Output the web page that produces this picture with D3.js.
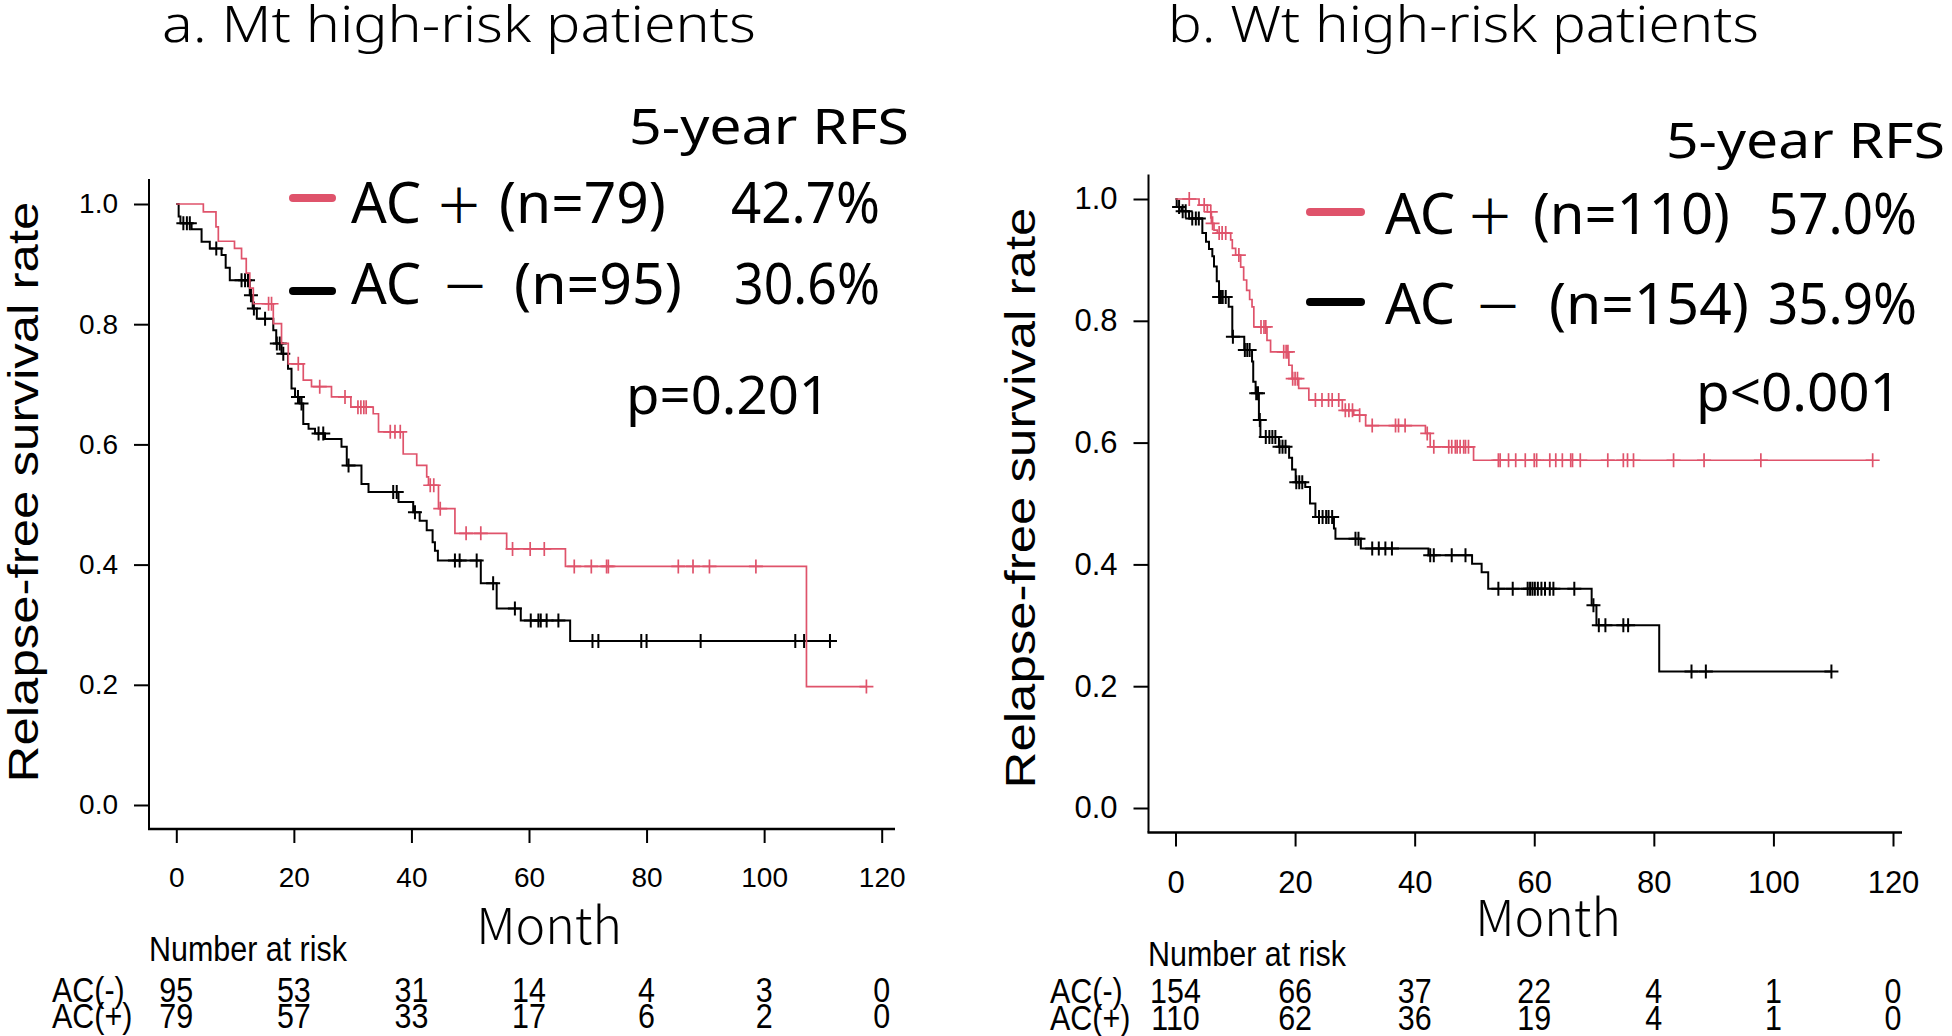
<!DOCTYPE html>
<html><head><meta charset="utf-8">
<script src="https://cdn.jsdelivr.net/npm/d3@7"></script>
<style>body{margin:0;background:#fff;} svg{display:block;}</style>
</head><body>
<svg id="chart" width="1952" height="1036"></svg>
<script>
// ---------------- DATA ----------------
const xTicks = [0, 20, 40, 60, 80, 100, 120];
const yTicks = [0, 0.2, 0.4, 0.6, 0.8, 1.0];
const riskTimes = [0, 20, 40, 60, 80, 100, 120];

// Panel a: Mt high-risk patients
// steps: [month, survival after drop]
const mtNegSteps = [[0.4,0.979],[0.7,0.968],[2.6,0.958],[4.3,0.937],[5.7,0.926],[7.7,0.915],[8.4,0.894],[9.1,0.873],[12.5,0.848],[13.0,0.826],[13.7,0.809],[16.5,0.790],[17.0,0.768],[17.9,0.751],[19.0,0.726],[19.6,0.693],[20.2,0.679],[21.0,0.668],[21.6,0.634],[22.5,0.626],[23.6,0.618],[25.3,0.609],[28.1,0.596],[29.0,0.565],[31.5,0.534],[32.7,0.521],[37.8,0.504],[40.3,0.487],[41.4,0.473],[42.6,0.457],[43.6,0.437],[44.0,0.423],[44.5,0.407],[51.8,0.369],[54.5,0.327],[58.6,0.307],[67.0,0.273]];
const mtNegCensor = [1.2,1.8,2.3,6.8,11.1,11.7,12.2,12.7,13.2,15.1,17.1,17.6,18.2,20.7,21.3,24.2,25.0,29.3,36.9,37.5,40.6,47.4,48.2,51.1,53.9,57.6,60.3,61.6,62.0,63.0,65.0,70.8,71.8,79.1,80.0,89.2,105.3,106.8,111.2];
const mtPosSteps = [[4.6,0.987],[6.75,0.962],[7.15,0.938],[9.9,0.926],[11.1,0.909],[11.9,0.885],[12.5,0.860],[13.1,0.834],[16.5,0.801],[17.9,0.768],[19.05,0.734],[21.6,0.707],[23.0,0.696],[26.4,0.679],[29.7,0.662],[33.5,0.651],[34.4,0.621],[38.6,0.584],[40.9,0.565],[42.6,0.546],[42.9,0.532],[44.6,0.493],[47.4,0.452],[56.2,0.426],[66.2,0.397],[107.2,0.197]];
const mtPosCensor = [15.7,16.2,20.75,24.4,28.7,30.9,31.4,31.9,32.3,36.4,37.2,38.1,43.2,43.8,44.9,49.3,51.8,57.2,60.2,62.6,67.7,70.6,73.2,73.5,85.4,87.9,90.7,98.6,117.4];
const mtRiskNeg = [95, 53, 31, 14, 4, 3, 0];
const mtRiskPos = [79, 57, 33, 17, 6, 2, 0];

// Panel b: Wt high-risk patients
const wtNegSteps = [[0.2,0.987],[1.0,0.980],[2.27,0.968],[4.49,0.944],[5.1,0.930],[5.6,0.918],[6.16,0.906],[6.44,0.889],[6.9,0.865],[7.28,0.839],[8.9,0.823],[9.5,0.774],[11.5,0.752],[12.8,0.733],[13.0,0.700],[13.4,0.681],[13.95,0.637],[14.2,0.609],[17.3,0.593],[19.0,0.575],[19.5,0.556],[20.1,0.535],[21.7,0.527],[22.5,0.500],[23.4,0.478],[26.5,0.459],[26.75,0.442],[31.0,0.426],[42.3,0.415],[49.6,0.401],[51.2,0.387],[52.3,0.360],[69.6,0.333],[70.4,0.300],[80.9,0.224]];
const wtNegCensor = [0.6,1.2,1.7,2.8,3.4,3.9,7.3,7.6,7.9,8.4,9.6,11.6,12.0,12.4,13.5,13.8,14.1,15.1,15.7,16.2,16.7,17.4,17.9,18.4,20.2,20.7,21.2,24.0,24.6,25.2,25.6,26.2,30.1,30.6,32.9,34.0,35.1,36.2,42.6,43.2,46.2,48.5,54.0,56.4,58.9,59.3,59.7,60.1,60.6,61.2,61.8,62.6,63.2,66.7,69.9,70.8,71.9,74.9,75.7,86.3,88.7,109.7];
const wtPosSteps = [[3.94,0.990],[5.33,0.979],[6.0,0.960],[6.44,0.949],[7.0,0.944],[9.23,0.933],[9.5,0.919],[10.06,0.908],[10.9,0.888],[11.4,0.867],[11.9,0.850],[12.4,0.835],[12.8,0.823],[13.1,0.790],[15.3,0.768],[15.9,0.749],[18.96,0.727],[19.5,0.705],[20.6,0.689],[22.3,0.670],[27.9,0.653],[29.8,0.645],[31.8,0.628],[41.8,0.615],[42.6,0.593],[49.85,0.571]];
const wtPosCensor = [2.3,4.8,5.9,6.2,7.3,7.8,8.4,10.6,14.3,14.8,15.1,18.1,18.5,18.8,19.6,20.0,20.4,23.4,24.5,25.6,26.2,27.3,28.4,29.0,29.6,30.8,32.9,36.8,37.3,38.4,42.1,43.2,45.7,46.2,46.8,47.1,47.6,48.2,48.5,49.0,54.0,54.3,55.7,56.9,58.5,60.0,60.4,62.6,63.6,64.7,66.1,66.4,67.7,72.3,74.9,75.6,76.6,83.3,88.4,97.9,116.6];
const wtRiskNeg = [154, 66, 37, 22, 4, 1, 0];
const wtRiskPos = [110, 62, 36, 19, 4, 1, 0];

const titles = ["a. Mt high-risk patients", "b. Wt high-risk patients"];
const groupName = "AC";
const groupSign = ["＋", "－"];            // AC+ row, AC− row
const groupN = [["(n=79)", "(n=95)"], ["(n=110)", "(n=154)"]];
const rfsVals = [["42.7%", "30.6%"], ["57.0%", "35.9%"]];
const pValues = ["p=0.201", "p<0.001"];

// ---------------- STYLE / LAYOUT ----------------
const RED = "#DF536B", BLACK = "#000000";
const JP = "'Noto Sans', 'Noto Sans CJK JP', sans-serif";
const CJK = "'Noto Sans CJK JP', sans-serif";
const RFONT = "'Liberation Sans', Arial, sans-serif";

const panels = [
  { steps: [mtNegSteps, mtPosSteps], censor: [mtNegCensor, mtPosCensor], risk: [mtRiskNeg, mtRiskPos],
    xr: [176.3, 881.7], yr: [805, 204], axX: 149, axY: 829, yTop: 179, xEnd: 895, tickFont: 28,
    title: [162, 756, 42], ylab: {x: 38, y: 492},
    month: {x: 549, y: 944}, nar: {x: 149, y: 961}, rows: [1002, 1028], rowLabX: 52,
    rfs: [629, 909, 144], legLine: {x1: 293, x2: 332, y: [198, 291]},
    legBase: [223, 304], acX: 351, signX: [459, 465], nBox: [[499, 666], [514, 682]],
    valBox: [[731, 880], [734, 880]], p: [626, 830, 414] },
  { steps: [wtNegSteps, wtPosSteps], censor: [wtNegCensor, wtPosCensor], risk: [wtRiskNeg, wtRiskPos],
    xr: [1175.5, 1893], yr: [808, 199], axX: 1148.5, axY: 832.5, yTop: 174.5, xEnd: 1902, tickFont: 31,
    title: [1168, 1759, 42], ylab: {x: 1035, y: 498},
    month: {x: 1548, y: 936}, nar: {x: 1148, y: 966}, rows: [1003, 1030], rowLabX: 1050,
    rfs: [1666, 1945, 158], legLine: {x1: 1310, x2: 1361, y: [212, 302]},
    legBase: [234, 324], acX: 1385, signX: [1490, 1498], nBox: [[1533, 1730], [1549, 1749]],
    valBox: [[1768, 1917], [1768, 1917]], p: [1696, 1901, 411] }
];

const svg = d3.select("#chart");

function survAt(steps, t) {
  let s = 1;
  for (const [st, sv] of steps) { if (st <= t) s = sv; else break; }
  return s;
}

// place a text so that it spans [x0, x1] with baseline yb
function boxText(g, x0, x1, yb, str, size, weight) {
  const t = g.append("text").attr("x", 0).attr("y", 0)
    .attr("font-family", JP).attr("font-size", size).attr("font-weight", weight || 400).text(str);
  const w = t.node().getComputedTextLength();
  const sx = (x1 - x0) / w;
  t.attr("transform", `translate(${x0},${yb}) scale(${sx},1)`);
  return t;
}

panels.forEach((P, pi) => {
  const x = d3.scaleLinear().domain([0, 120]).range(P.xr);
  const y = d3.scaleLinear().domain([0, 1]).range(P.yr);
  const g = svg.append("g");

  // L-shaped box
  g.append("line").attr("x1", P.axX).attr("x2", P.axX).attr("y1", P.yTop).attr("y2", P.axY)
    .attr("stroke", "#000").attr("stroke-width", 2);
  g.append("line").attr("x1", P.axX - 1).attr("x2", P.xEnd).attr("y1", P.axY).attr("y2", P.axY)
    .attr("stroke", "#000").attr("stroke-width", 2.4);

  // axes (ticks + labels)
  const ya = g.append("g").attr("transform", `translate(${P.axX},0)`)
    .call(d3.axisLeft(y).tickValues(yTicks).tickFormat(d3.format(".1f")).tickSize(15).tickPadding(16));
  const xa = g.append("g").attr("transform", `translate(0,${P.axY})`)
    .call(d3.axisBottom(x).tickValues(xTicks).tickFormat(d3.format("d")).tickSize(14).tickPadding(24));
  [ya, xa].forEach(a => {
    a.select(".domain").remove();
    a.selectAll("line").attr("stroke", "#000").attr("stroke-width", 2);
    a.selectAll("text").attr("font-family", RFONT).attr("font-size", P.tickFont).attr("fill", "#000");
  });

  // curves
  const line = d3.line().x(d => x(d[0])).y(d => y(d[1])).curve(d3.curveStepAfter);
  [0, 1].forEach(k => {
    const steps = P.steps[k], cens = P.censor[k];
    const col = k === 0 ? BLACK : RED;
    const sw = k === 0 ? 2 : 1.7;
    const tEnd = Math.max(d3.max(cens), d3.max(steps, d => d[0]));
    const pts = [[0, 1], ...steps, [tEnd, steps[steps.length - 1][1]]];
    g.append("path").datum(pts).attr("d", line).attr("fill", "none")
      .attr("stroke", col).attr("stroke-width", sw);
    const h = 7;
    g.append("g").selectAll("path").data(cens).join("path")
      .attr("d", t => {
        const cx = x(t), cy = y(survAt(steps, t));
        return `M${cx - h},${cy}H${cx + h}M${cx},${cy - h}V${cy + h}`;
      })
      .attr("stroke", col).attr("stroke-width", sw).attr("fill", "none");
  });

  // titles and labels
  boxText(g, P.title[0], P.title[1], P.title[2], titles[pi], 50, 300);
  g.append("text").attr("transform", `translate(${P.ylab.x},${P.ylab.y}) scale(0.85,1) rotate(-90)`)
    .attr("text-anchor", "middle").attr("font-family", RFONT).attr("font-size", 51)
    .text("Relapse-free survival rate");
  g.append("text").attr("x", P.month.x).attr("y", P.month.y).attr("text-anchor", "middle")
    .attr("font-family", CJK).attr("font-size", 50).attr("font-weight", 300).text("Month");

  // legend
  boxText(g, P.rfs[0], P.rfs[1], P.rfs[2], "5-year RFS", 49, 400);
  const cols = [RED, BLACK];
  [0, 1].forEach(i => {
    const yb = P.legBase[i];
    g.append("line").attr("x1", P.legLine.x1).attr("x2", P.legLine.x2)
      .attr("y1", P.legLine.y[i]).attr("y2", P.legLine.y[i])
      .attr("stroke", cols[i]).attr("stroke-width", 8).attr("stroke-linecap", "round");
    g.append("text").attr("x", P.acX).attr("y", yb)
      .attr("font-family", JP).attr("font-size", 56).attr("font-weight", 400).text(groupName);
    g.append("text").attr("x", P.signX[i]).attr("y", yb).attr("text-anchor", "middle")
      .attr("font-family", CJK).attr("font-size", 48).attr("font-weight", 400).text(groupSign[i]);
    boxText(g, P.nBox[i][0], P.nBox[i][1], yb, groupN[pi][i], 56, 400);
    boxText(g, P.valBox[i][0], P.valBox[i][1], yb, rfsVals[pi][i], 56, 400);
  });
  boxText(g, P.p[0], P.p[1], P.p[2], pValues[pi], 53, 400);

  // number at risk
  const rt = (sel, tx, ty) => sel.append("text")
    .attr("transform", `translate(${tx},${ty}) scale(0.87,1)`)
    .attr("font-family", RFONT).attr("font-size", 35);
  rt(g, P.nar.x, P.nar.y).text("Number at risk");
  [["AC(-)", P.risk[0]], ["AC(+)", P.risk[1]]].forEach(([lab, v], i) => {
    rt(g, P.rowLabX, P.rows[i]).text(lab);
    v.forEach((n, j) => {
      rt(g, x(riskTimes[j]), P.rows[i]).attr("text-anchor", "middle").text(n);
    });
  });
});
</script>
</body></html>
